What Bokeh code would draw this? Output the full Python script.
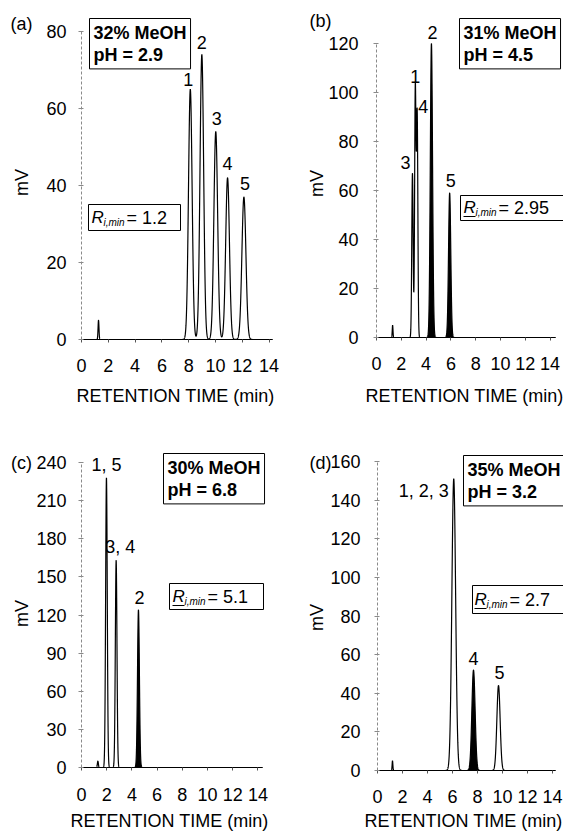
import numpy as np
from bokeh.plotting import figure
from bokeh.models import Label, Range1d, FixedTicker
from bokeh.layouts import row, column
from bokeh.embed import file_html
from bokeh.resources import INLINE

FONT = "Liberation Sans"
X_TICKS = [0, 2, 4, 6, 8, 10, 12, 14]

# ---------------- data ----------------
# (a) 32% MeOH, pH 2.9
a_rt     = [1.27, 8.12, 8.98, 10.02, 10.90, 12.12]
a_height = [5, 65, 74, 54, 42, 37]
a_sigma  = [0.035, 0.135, 0.135, 0.14, 0.14, 0.15]
a_filled = [False, False, False, False, False, False]
a_names  = ["", "1", "2", "3", "4", "5"]
a_yticks = [0, 20, 40, 60, 80]
a_cond   = "32% MeOH\npH = 2.9"
a_rs     = "= 1.2"

# (b) 31% MeOH, pH 4.5
b_rt     = [1.30, 2.90, 3.13, 3.28, 4.43, 5.90]
b_height = [5, 67, 102, 91, 120, 59]
b_sigma  = [0.03, 0.055, 0.055, 0.055, 0.09, 0.09]
b_filled = [False, False, False, False, True, True]
b_names  = ["", "3", "1", "4", "2", "5"]
b_yticks = [0, 20, 40, 60, 80, 100, 120]
b_cond   = "31% MeOH\npH = 4.5"
b_rs     = "= 2.95"

# (c) 30% MeOH, pH 6.8
c_rt     = [1.30, 1.98, 2.75, 4.52]
c_height = [5, 228, 163, 124]
c_sigma  = [0.04, 0.065, 0.065, 0.075]
c_filled = [False, False, False, True]
c_names  = ["", "1, 5", "3, 4", "2"]
c_yticks = [0, 30, 60, 90, 120, 150, 180, 210, 240]
c_cond   = "30% MeOH\npH = 6.8"
c_rs     = "= 5.1"

# (d) 35% MeOH, pH 3.2
d_rt     = [1.20, 6.10, 7.68, 9.68]
d_height = [5, 151, 52, 44]
d_sigma  = [0.03, 0.15, 0.13, 0.13]
d_filled = [False, False, True, False]
d_names  = ["", "1, 2, 3", "4", "5"]
d_yticks = [0, 20, 40, 60, 80, 100, 120, 140, 160]
d_cond   = "35% MeOH\npH = 3.2"
d_rs     = "= 2.7"

# ---------------- layout (page pixel positions, styles) ----------------
LAYOUT = {
    "a": dict(fig=(0, 0, 285, 416), origin=(81, 339), top_px=31, xscale=13.4, x_end_px=272,
              ystand=12, xstand=16, tag=(21, 23), mv=(21, 182), title=(175, 395), cond=(89, 18),
              box=(88, 180, 204, 230), R=(91, 217), underline=False,
              offs=[(0, 0), (-2, 10), (0, 12), (1, 13), (0, 14), (1, 14)]),
    "b": dict(fig=(285, 0, 278, 416), origin=(376, 337), top_px=43, xscale=12.4, x_end_px=555,
              ystand=15, xstand=16, tag=(320, 20), mv=(316, 183), title=(464, 395), cond=(459, 18),
              box=(460, 575, 195, 220), R=(463, 207), underline=True,
              offs=[(0, 0), (-7, 11), (0, 11), (6, 8), (1, 11), (1, 12)]),
    "c": dict(fig=(0, 416, 285, 416), origin=(81, 767), top_px=462, xscale=12.6, x_end_px=262,
              ystand=12, xstand=17, tag=(21, 462), mv=(21, 613), title=(169, 820), cond=(163, 453),
              box=(169, 263, 583, 609), R=(172, 596), underline=True,
              offs=[(0, 0), (0, 13), (4, 13), (1, 12)]),
    "d": dict(fig=(285, 416, 278, 416), origin=(377, 770), top_px=461, xscale=12.5, x_end_px=555,
              ystand=14, xstand=16, tag=(320, 462), mv=(316, 617), title=(463, 820), cond=(463, 455),
              box=(472, 575, 585, 613), R=(474, 599), underline=True,
              offs=[(0, 0), (-30, -12), (0, 12), (1, 13)]),
}


def make_panel(key, rt, height, sigma, filled, names, yticks, cond, rs):
    L = LAYOUT[key]
    fl, ft, fw, fh = L["fig"]
    ox, oy = L["origin"]
    sx = L["xscale"]
    ymax = yticks[-1]
    sy = (oy - L["top_px"]) / ymax

    # page pixel -> data coordinates (frame covers the whole figure)
    def P(px, py):
        return (px - ox) / sx, (oy - py) / sy

    x0r, y1r = P(fl, ft)
    x1r, y0r = P(fl + fw, ft + fh)
    xend = (L["x_end_px"] - ox) / sx

    p = figure(width=fw, height=fh, x_range=Range1d(x0r, x1r), y_range=Range1d(y0r, y1r),
               output_backend="svg", toolbar_location=None,
               min_border_left=0, min_border_right=0, min_border_top=0, min_border_bottom=0)
    p.outline_line_color = None
    p.xgrid.visible = False
    p.ygrid.visible = False
    p.background_fill_color = "white"
    p.border_fill_color = "white"

    # axes, drawn at the data origin
    xa = p.xaxis[0]
    xa.fixed_location = 0
    xa.bounds = (0, xend)
    xa.ticker = FixedTicker(ticks=X_TICKS)
    xa.axis_line_color = "black"
    xa.major_tick_in = 0
    xa.major_tick_out = 3
    xa.major_tick_line_color = "#555555"
    xa.minor_tick_line_color = None
    xa.major_label_text_font = FONT
    xa.major_label_text_font_size = "18px"
    xa.major_label_text_color = "black"
    xa.major_label_standoff = L["xstand"]

    ya = p.yaxis[0]
    ya.fixed_location = 0
    ya.bounds = (0, ymax)
    ya.ticker = FixedTicker(ticks=yticks)
    ya.axis_line_color = "#8a8a8a"
    ya.axis_line_dash = "3 2"
    ya.major_tick_in = 2
    ya.major_tick_out = 3
    ya.major_tick_line_color = "#8a8a8a"
    ya.minor_tick_line_color = None
    ya.major_label_text_font = FONT
    ya.major_label_text_font_size = "18px"
    ya.major_label_text_color = "black"
    ya.major_label_standoff = L["ystand"]

    # chromatogram trace built from the peak table
    xs = np.linspace(0, xend, 4000)
    total = np.zeros_like(xs)
    for t, h, s, f in zip(rt, height, sigma, filled):
        g = h * np.exp(-0.5 * ((xs - t) / s) ** 2)
        total += g
        if f:
            p.varea(x=xs, y1=0, y2=g, fill_color="black")
    p.line(xs, total, line_color="black", line_width=1.2)

    def lab(px, py, text, size="18px", style="normal", align="center", base="middle", angle=0):
        x, y = P(px, py)
        p.add_layout(Label(x=x, y=y, text=text, text_font=FONT, text_font_size=size,
                           text_font_style=style, text_align=align, text_baseline=base,
                           angle=angle, text_color="black"))

    # peak labels
    for t, h, n, (dx, dy) in zip(rt, height, names, L["offs"]):
        if n:
            p.add_layout(Label(x=t, y=h, text=n, x_offset=dx, y_offset=dy, text_font=FONT,
                               text_font_size="18px", text_align="center", text_baseline="middle",
                               text_color="black"))

    lab(*L["tag"], "(" + key + ")")
    lab(*L["mv"], "mV", angle=np.pi / 2)
    lab(*L["title"], "RETENTION TIME (min)")

    # condition box
    cx, cy = P(*L["cond"])
    p.add_layout(Label(x=cx, y=cy, text=cond, text_font=FONT, text_font_size="18px",
                       text_font_style="bold", text_align="left", text_baseline="top",
                       text_line_height=1.12, background_fill_color="white",
                       border_line_color="black", border_line_width=1, padding=4,
                       text_color="black"))

    # resolution box
    bl, br, bt, bb = L["box"]
    qx0, qy0 = P(bl, bb)
    qx1, qy1 = P(br, bt)
    p.quad(left=[qx0], right=[qx1], bottom=[qy0], top=[qy1], fill_color="white",
           line_color="black", line_width=1)
    rx, ry = L["R"]
    lab(rx, ry, "R", size="17px", style="italic", align="left")
    lab(rx + 12, ry + 5, "i,min", size="10px", style="italic", align="left")
    lab(rx + 35, ry, rs, align="left")
    if L["underline"]:
        u0 = P(rx, ry + 9)
        u1 = P(rx + 12, ry + 9)
        p.segment(x0=[u0[0]], y0=[u0[1]], x1=[u1[0]], y1=[u1[1]], line_color="black", line_width=1)
    return p


pa = make_panel("a", a_rt, a_height, a_sigma, a_filled, a_names, a_yticks, a_cond, a_rs)
pb = make_panel("b", b_rt, b_height, b_sigma, b_filled, b_names, b_yticks, b_cond, b_rs)
pc = make_panel("c", c_rt, c_height, c_sigma, c_filled, c_names, c_yticks, c_cond, c_rs)
pd = make_panel("d", d_rt, d_height, d_sigma, d_filled, d_names, d_yticks, d_cond, d_rs)

layout = row(column(pa, pc), column(pb, pd))
open("out.html", "w").write(file_html(layout, INLINE))
